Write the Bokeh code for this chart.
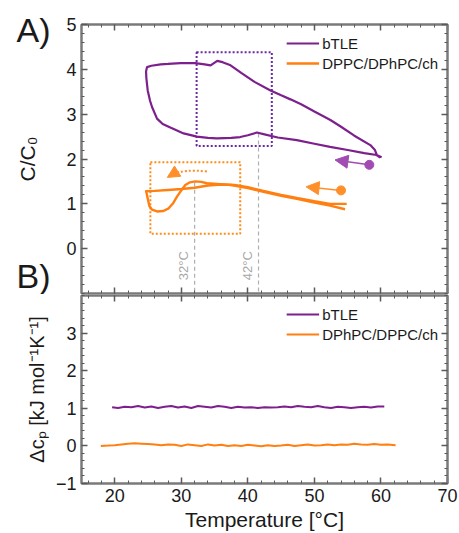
from bokeh.plotting import figure
from bokeh.layouts import column
from bokeh.models import (LinearAxis, FixedTicker, Range1d, Arrow, NormalHead,
                          CustomJSTickFormatter)
from bokeh.core.properties import value
from bokeh.embed import file_html
from bokeh.resources import INLINE

FONT = "Liberation Sans"
PURPLE = "#7d1f8c"
ORANGE = "#ff7f10"
BOX_PURPLE = "#6a2aa8"
GRAY = "#7a7a7a"
INK = "#1a1a1a"

# ---------------- Panel A data (C/C0 vs temperature) ----------------
btle_T = [59.9, 59.4, 59.1, 58.4, 56.0, 54.0, 52.4, 50.0, 48.0, 46.4, 45.0, 43.4, 41.0, 39.0,
          37.4, 36.2, 35.4, 34.9, 34.4, 33.5, 32.1, 29.9, 28.0, 26.9, 25.5, 24.85, 24.7, 24.75,
          24.95, 25.3, 25.6, 26.35, 27.2, 28.35, 30.35, 32.35, 34.0, 35.35, 37.5, 38.85, 40.0,
          41.35, 42.5, 44.5, 47.35, 50.0, 52.35, 55.0, 57.5, 59.35, 60.1]
btle_C = [2.03, 2.08, 2.20, 2.31, 2.52, 2.72, 2.87, 3.06, 3.22, 3.33, 3.42, 3.53, 3.72, 3.92,
          4.09, 4.16, 4.19, 4.14, 4.09, 4.11, 4.14, 4.14, 4.12, 4.11, 4.08, 4.05, 3.95, 3.80,
          3.53, 3.30, 3.16, 2.90, 2.78, 2.70, 2.57, 2.50, 2.47, 2.46, 2.47, 2.49, 2.53,
          2.59, 2.55, 2.48, 2.42, 2.34, 2.27, 2.20, 2.13, 2.09, 2.04]

dppc_T1 = [24.6, 26.0, 28.0, 30.0, 32.0, 34.0, 36.0, 38.0, 40.0, 42.35, 45.0, 47.35, 50.0, 52.35, 54.85]
dppc_C1 = [1.28, 1.29, 1.31, 1.33, 1.36, 1.41, 1.43, 1.42, 1.37, 1.29, 1.20, 1.13, 1.06, 1.00, 1.00]

dppc_T2 = [24.7, 24.9, 25.2, 25.6, 26.35, 27.3, 28.1, 28.8, 29.35, 30.0, 30.6, 31.3, 32.1, 33.0,
           33.85, 35.85, 37.5, 40.0, 42.35, 45.0, 47.35, 50.0, 52.35, 54.6]
dppc_C2 = [1.30, 1.15, 0.95, 0.87, 0.83, 0.84, 0.90, 1.02, 1.16, 1.30, 1.42, 1.48, 1.50, 1.49,
           1.46, 1.44, 1.42, 1.35, 1.27, 1.18, 1.11, 1.03, 0.96, 0.88]

# zoom boxes [T_left, T_right, C_bottom, C_top]
box_btle = [32.3, 43.6, 2.29, 4.38]
box_dppc = [25.35, 38.85, 0.33, 1.93]
# transition temperatures (marked lines) and where their dashed lines start
trans_T = [32.0, 41.6]
trans_top = [1.47, 2.57]
trans_labels = ["32°C", "42°C"]

# cooling-direction arrows [T_start, C_start, T_end, C_end]
arrow_btle = [58.25, 1.87, 53.1, 1.98]
arrow_dppc = [54.0, 1.30, 48.75, 1.38]

# panel letters, at the C/C0 level they sit beside
panel_letter_pos = [4.88, -0.80]

# ---------------- Panel B data (delta cp vs temperature) ----------------
cp_btle_T = [19.6, 20.5, 21.5, 22.5, 23.5, 24.5, 25.5, 26.5, 27.5, 28.5, 29.5, 30.5, 31.5, 32.5,
             33.5, 34.5, 35.5, 36.5, 37.5, 38.5, 39.5, 40.5, 41.5, 42.5, 43.5, 44.5, 45.5, 46.5,
             47.5, 48.5, 49.5, 50.5, 51.5, 52.5, 53.5, 54.5, 55.5, 56.5, 57.5, 58.5, 59.5, 60.5]
cp_btle = [1.03, 1.01, 1.04, 1.03, 1.06, 1.02, 1.05, 1.01, 1.04, 1.06, 1.02, 1.05, 1.01, 1.06,
           1.04, 1.02, 1.06, 1.04, 1.01, 1.04, 1.02, 1.03, 1.01, 1.03, 1.02, 1.03, 1.05, 1.03,
           1.06, 1.04, 1.03, 1.06, 1.03, 1.01, 1.04, 1.03, 1.01, 1.03, 1.04, 1.02, 1.05, 1.05]

cp_dppc_T = [17.9, 19, 20, 21, 22, 23, 24, 25, 26, 27, 28, 29, 30, 31, 32, 33, 34, 35, 36, 37,
             38, 39, 40, 41, 42, 43, 44, 45, 46, 47, 48, 49, 50, 51, 52, 53, 54, 55, 56, 57,
             58, 59, 60, 61, 62.2]
cp_dppc = [0.0, 0.01, 0.02, 0.04, 0.06, 0.07, 0.06, 0.05, 0.04, 0.02, 0.04, 0.03, 0.0, 0.04,
           0.02, 0.0, 0.04, 0.01, 0.03, 0.0, 0.02, 0.0, 0.03, 0.01, -0.01, 0.02, 0.0, 0.01, 0.03,
           0.0, 0.02, 0.04, 0.01, 0.02, 0.04, 0.02, 0.04, 0.03, 0.06, 0.04, 0.03, 0.05, 0.03,
           0.04, 0.02]

x_major = [20, 30, 40, 50, 60, 70]
x_minor = [v for v in range(16, 71, 2)]
yA_major = [0, 1, 2, 3, 4, 5]
yA_minor = [round(-1 + 0.2 * i, 1) for i in range(31)]
yB_major = [-1, 0, 1, 2, 3]
yB_minor = [round(-1 + 0.2 * i, 1) for i in range(26)]


def style_axis(ax, major, minor, show_labels):
    ax.ticker = FixedTicker(ticks=major, minor_ticks=minor)
    ax.axis_line_color = GRAY
    ax.axis_line_width = 2
    ax.major_tick_in = 6
    ax.major_tick_out = 0
    ax.minor_tick_in = 3
    ax.minor_tick_out = 0
    ax.major_tick_line_color = "#5a5a5a"
    ax.major_tick_line_width = 1.5
    ax.minor_tick_line_color = "#5a5a5a"
    ax.minor_tick_line_width = 1
    ax.major_label_text_font = FONT
    ax.major_label_text_color = INK
    ax.axis_label_text_font = FONT
    ax.axis_label_text_font_style = "normal"
    ax.axis_label_text_color = INK
    if show_labels:
        ax.major_label_text_font_size = "18px"
        ax.major_label_standoff = 5
    else:
        ax.formatter = CustomJSTickFormatter(code="return ''")
        ax.major_label_text_font_size = "1px"
        ax.major_label_standoff = 0
        ax.axis_label_standoff = 0


def make_fig(h, yr, top, bottom):
    p = figure(width=459, height=h, x_range=Range1d(15, 70), y_range=yr,
               output_backend="svg", toolbar_location=None,
               min_border_left=81, min_border_right=12,
               min_border_top=top, min_border_bottom=bottom)
    p.grid.visible = False
    p.outline_line_color = GRAY
    p.outline_line_width = 2
    p.background_fill_color = "white"
    p.border_fill_color = "white"
    return p


def style_legend(lg):
    lg.location = "top_right"
    lg.border_line_alpha = 0
    lg.background_fill_alpha = 0
    lg.label_text_font = FONT
    lg.label_text_font_size = "15px"
    lg.label_text_color = INK
    lg.glyph_width = 33
    lg.label_standoff = 3
    lg.spacing = 0
    lg.padding = 4
    lg.margin = 5


# ================= Panel A =================
pA = make_fig(294, Range1d(-1, 5), 24, 1)
pA.add_layout(LinearAxis(), "above")
pA.add_layout(LinearAxis(), "right")
for ax in pA.below + pA.above:
    style_axis(ax, x_major, x_minor, False)
for ax in pA.right:
    style_axis(ax, yA_major, yA_minor, False)
for ax in pA.left:
    style_axis(ax, yA_major, yA_minor, True)

# outer left axis: carries the panel letters and the C/C0 title
letters = LinearAxis(ticker=FixedTicker(ticks=panel_letter_pos, minor_ticks=[]),
                     formatter=CustomJSTickFormatter(code="return tick > 2 ? 'A)' : 'B)'"),
                     axis_line_alpha=0, major_tick_line_alpha=0, minor_tick_line_alpha=0,
                     major_tick_in=0, major_tick_out=0, minor_tick_in=0, minor_tick_out=0,
                     major_label_standoff=13, major_label_text_font=FONT,
                     major_label_text_font_size="34px", major_label_text_color=INK,
                     axis_label="C/C₀", axis_label_text_font=FONT,
                     axis_label_text_font_size="21px", axis_label_text_font_style="normal",
                     axis_label_text_color=INK, axis_label_standoff=-25)
pA.add_layout(letters, "left")

# dashed transition lines
pA.segment(x0=trans_T, y0=trans_top, x1=trans_T, y1=[-1, -1], line_color="#b0b0b0",
           line_width=1.2, line_dash="4 3")
pA.text(x=[30.3, 40.0], y=[-0.38, -0.38], text=trans_labels, angle=1.5708,
        text_align="center", text_baseline="middle", text_color="#a8a8a8",
        text_font=value(FONT), text_font_size="13px")

# zoom boxes
pA.quad(left=[box_btle[0]], right=[box_btle[1]], bottom=[box_btle[2]], top=[box_btle[3]],
        fill_alpha=0, line_color=BOX_PURPLE, line_width=2, line_dash="2 2")
pA.quad(left=[box_dppc[0]], right=[box_dppc[1]], bottom=[box_dppc[2]], top=[box_dppc[3]],
        fill_alpha=0, line_color="#ff8c1a", line_width=2, line_dash="2 2")

pA.line(btle_T, btle_C, line_color=PURPLE, line_width=2.2, legend_label="bTLE")
pA.line(dppc_T1, dppc_C1, line_color=ORANGE, line_width=2.4, legend_label="DPPC/DPhPC/ch")
pA.line(dppc_T2, dppc_C2, line_color=ORANGE, line_width=2.4)

# direction arrows
pA.add_layout(Arrow(end=NormalHead(size=13, fill_color="#a24cb3", line_color="#a24cb3"),
                    x_start=arrow_btle[0], y_start=arrow_btle[1],
                    x_end=arrow_btle[2], y_end=arrow_btle[3],
                    line_color="#a24cb3", line_width=1.5))
pA.scatter([arrow_btle[0]], [arrow_btle[1]], size=9, color="#a24cb3")
pA.add_layout(Arrow(end=NormalHead(size=13, fill_color="#ff8f2a", line_color="#ff8f2a"),
                    x_start=arrow_dppc[0], y_start=arrow_dppc[1],
                    x_end=arrow_dppc[2], y_end=arrow_dppc[3],
                    line_color="#ff8f2a", line_width=1.5))
pA.scatter([arrow_dppc[0]], [arrow_dppc[1]], size=9, color="#ff8f2a")

# curved dotted arrow
pA.bezier(x0=[33.85], y0=[1.72], x1=[28.8], y1=[1.67], cx0=[31.5], cy0=[1.76],
          cx1=[29.8], cy1=[1.73], line_color="#ff8f2a", line_width=2, line_dash="2 2")
pA.add_layout(Arrow(end=NormalHead(size=12, fill_color="#ff8f2a", line_color="#ff8f2a"),
                    x_start=28.9, y_start=1.68, x_end=27.9, y_end=1.59,
                    line_alpha=0))

style_legend(pA.legend[0])

# ================= Panel B =================
pB = make_fig(239, Range1d(-1, 4), 1, 10)
pB.add_layout(LinearAxis(), "above")
pB.add_layout(LinearAxis(), "right")
for ax in pB.above:
    style_axis(ax, x_major, x_minor, False)
for ax in pB.below:
    style_axis(ax, x_major, x_minor, True)
for ax in pB.right:
    style_axis(ax, yB_major, yB_minor, False)
for ax in pB.left:
    style_axis(ax, yB_major, yB_minor, True)
pB.below[0].axis_label = "Temperature [°C]"
pB.below[0].axis_label_text_font_size = "21px"
pB.below[0].axis_label_standoff = 3
pB.left[0].axis_label = "Δcₚ [kJ mol⁻¹K⁻¹]"
pB.left[0].axis_label_text_font_size = "20px"
pB.left[0].axis_label_standoff = 5

pB.line(cp_btle_T, cp_btle, line_color=PURPLE, line_width=2, legend_label="bTLE")
pB.line(cp_dppc_T, cp_dppc, line_color=ORANGE, line_width=2, legend_label="DPhPC/DPPC/ch")

style_legend(pB.legend[0])

layout = column(pA, pB, spacing=0)
open("out.html", "w").write(file_html(layout, INLINE))
